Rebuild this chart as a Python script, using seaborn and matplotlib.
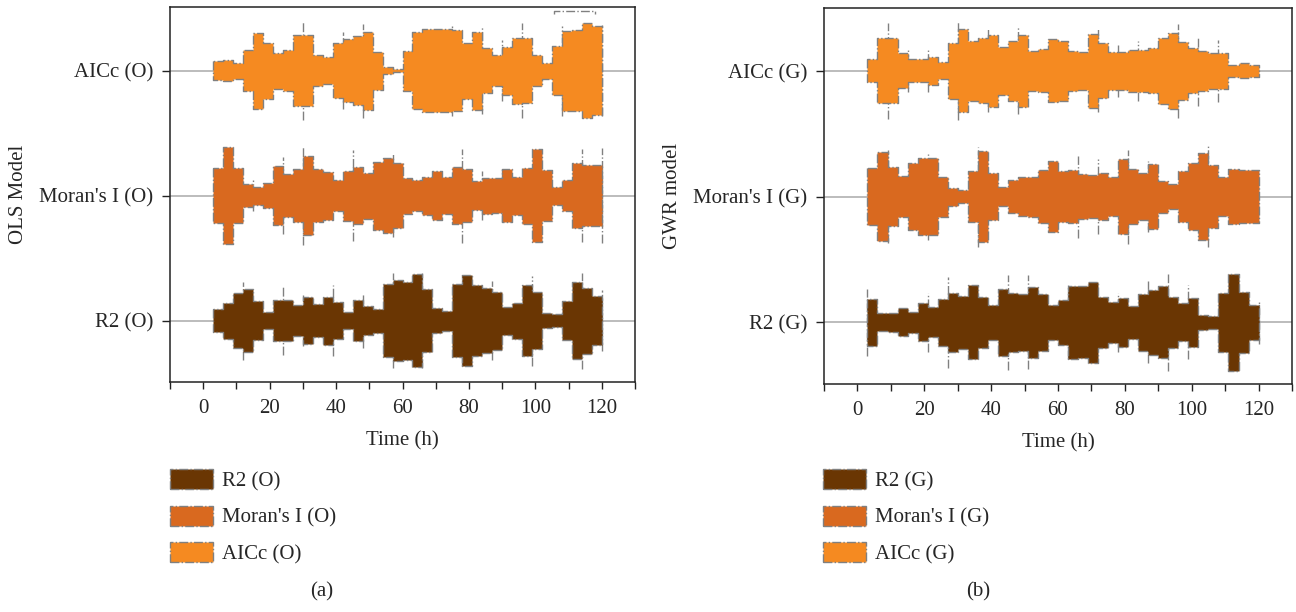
import numpy as np
import matplotlib
matplotlib.use("Agg")
import matplotlib.pyplot as plt
from matplotlib.patches import Patch
import seaborn as sns

# ---- data: half-thickness of each 3-hour band segment (segments start at hours 3 .. 117) ----
hours = list(range(3, 120, 3))

r2_ols = [35, 54, 82, 95, 58, 25, 61, 61, 47, 70, 49, 72, 55, 25, 62, 43, 36, 109, 122, 117,
          139, 95, 38, 30, 109, 137, 107, 97, 87, 42, 54, 107, 85, 22, 19, 58, 115, 99, 74]
moran_ols = [82, 145, 82, 34, 27, 37, 89, 64, 79, 119, 79, 72, 47, 75, 85, 69, 102, 112, 97, 54,
             47, 57, 74, 55, 85, 79, 44, 54, 52, 79, 57, 84, 139, 77, 27, 47, 97, 92, 92]
aicc_ols = [29, 31, 24, 62, 114, 84, 54, 62, 107, 107, 47, 40, 82, 94, 104, 117, 57, 10, 5, 60,
            115, 125, 124, 124, 122, 84, 117, 67, 46, 72, 99, 97, 47, 24, 74, 120, 122, 142, 134]

r2_gwr = [69, 27, 29, 42, 32, 57, 45, 69, 87, 79, 110, 75, 52, 99, 89, 84, 105, 84, 52, 67,
          109, 107, 120, 75, 62, 74, 49, 84, 97, 107, 75, 57, 72, 22, 19, 89, 145, 92, 52]
moran_gwr = [85, 132, 88, 62, 100, 115, 115, 60, 27, 20, 75, 135, 70, 28, 50, 58, 60, 80, 105, 75,
             80, 68, 65, 70, 58, 112, 82, 70, 97, 48, 38, 75, 100, 130, 95, 58, 82, 80, 80]
aicc_gwr = [34, 97, 97, 52, 34, 34, 42, 25, 84, 124, 89, 97, 107, 72, 90, 107, 60, 64, 94, 90,
            60, 57, 110, 82, 57, 57, 62, 62, 67, 99, 114, 87, 67, 60, 54, 54, 17, 22, 17]

# ---- extreme whiskers at segment boundaries: (hour, half-extent) ----
r2_ols_whisk = [(12, 117), (24, 104), (30, 77), (39, 107), (48, 81), (57, 142), (66, 142),
                (78, 137), (87, 118), (99, 135), (114, 144), (120, 91)]
moran_ols_whisk = [(15, 46), (24, 115), (30, 147), (45, 137), (57, 125), (78, 141), (84, 73),
                   (90, 80), (114, 139), (120, 142)]
aicc_ols_whisk = [(30, 147), (42, 115), (48, 141), (75, 135), (84, 130), (90, 92), (96, 142),
                  (108, 135), (111, 122), (120, 137)]

r2_gwr_whisk = [(3, 101), (21, 89), (27, 136), (45, 142), (51, 140), (63, 110), (78, 88),
                (87, 122), (93, 145), (99, 110), (120, 65)]
moran_gwr_whisk = [(9, 138), (21, 128), (36, 149), (66, 122), (72, 112), (81, 140), (87, 105),
                   (105, 150)]
aicc_gwr_whisk = [(9, 144), (15, 62), (21, 62), (30, 145), (39, 124), (48, 130), (60, 92),
                  (72, 124), (78, 77), (84, 90), (96, 140), (102, 105), (108, 92)]

series_ols = ["R2 (O)", "Moran's I (O)", "AICc (O)"]
series_gwr = ["R2 (G)", "Moran's I (G)", "AICc (G)"]

xticks_major = [0, 20, 40, 60, 80, 100, 120]

# ---- style ----
sns.set_theme(style="white")
plt.rcParams["font.family"] = ["Liberation Serif", "DejaVu Serif"]
plt.rcParams["axes.edgecolor"] = "#222222"

colors = ["#6a3603", "#d9691f", "#f58a21"]
edge_grey = "#808080"
STEP = 3
SCALE = 1 / 375.0  # amplitude units -> category spacing units
FS = 15

W, H = 1296, 612
fig = plt.figure(figsize=(W / 100, H / 100), dpi=100)


def px_axes(l, t, r, b):
    return fig.add_axes([l / W, 1 - b / H, (r - l) / W, (b - t) / H])


def draw_panel(ax, bands, whiskers, names, ylim):
    x_edges = np.r_[hours, hours[-1] + STEP]
    for k, (vals, wh) in enumerate(zip(bands, whiskers)):
        ax.axhline(k, color="#b0b0b0", lw=1.2, zorder=1)
        half = np.asarray(vals, dtype=float) * SCALE
        half = np.r_[half, half[-1]]
        wx = [w[0] for w in wh]
        wy = np.asarray([w[1] for w in wh]) * SCALE
        ax.vlines(wx, k - wy, k + wy, colors=edge_grey, linestyles="-.", linewidth=1.0,
                  zorder=1.5)
        ax.fill_between(x_edges, k - half, k + half, step="post", facecolor=colors[k],
                        edgecolor=edge_grey, linestyle="-.", linewidth=1.0, zorder=2)
    ax.set_xlim(-10, 130)
    ax.set_ylim(*ylim)
    ax.set_xticks(xticks_major)
    ax.set_xticks(range(-10, 131, 10), minor=True)
    ax.set_yticks([0, 1, 2])
    ax.set_yticklabels(names, fontsize=FS)
    ax.tick_params(axis="x", which="both", direction="out", length=5, width=1, bottom=True,
                   labelsize=FS, pad=7, color="#222222")
    ax.tick_params(axis="y", direction="out", length=6, width=1, left=True, pad=6,
                   color="#222222")
    for s in ax.spines.values():
        s.set_linewidth(1.1)
    ax.set_xlabel("Time (h)", fontsize=FS, labelpad=10)
    ax.grid(False)


ax1 = px_axes(170, 7, 635, 382)
draw_panel(ax1, [r2_ols, moran_ols, aicc_ols],
           [r2_ols_whisk, moran_ols_whisk, aicc_ols_whisk], series_ols, (-0.49, 2.51))
# stray dash-dot stub near the top edge
ax1.plot([105.5, 105.5, 118, 118], [2.455, 2.475, 2.475, 2.455], color=edge_grey,
         linestyle="-.", lw=1.0, zorder=3)
ax1.set_ylabel("OLS Model", fontsize=FS, labelpad=8)

ax2 = px_axes(824, 8, 1292, 384)
draw_panel(ax2, [r2_gwr, moran_gwr, aicc_gwr],
           [r2_gwr_whisk, moran_gwr_whisk, aicc_gwr_whisk], series_gwr, (-0.49, 2.5))
ax2.set_ylabel("GWR model", fontsize=FS, labelpad=8)


def add_legend(names, x_px, y_px):
    handles = [Patch(facecolor=c, edgecolor=edge_grey, linestyle="-.", linewidth=1.0)
               for c in colors]
    fig.legend(handles, names, loc="upper left", bbox_to_anchor=(x_px / W, 1 - y_px / H),
               frameon=False, fontsize=FS, handlelength=2.05, handleheight=1.1,
               handletextpad=0.45, labelspacing=0.7, borderpad=0, borderaxespad=0)


add_legend(series_ols, 170, 469)
add_legend(series_gwr, 823, 469)

fig.text(322 / W, 1 - 592 / H, "(a)", ha="center", va="center", fontsize=FS)
fig.text(978 / W, 1 - 592 / H, "(b)", ha="center", va="center", fontsize=FS)

fig.savefig("out.png", dpi=100)
